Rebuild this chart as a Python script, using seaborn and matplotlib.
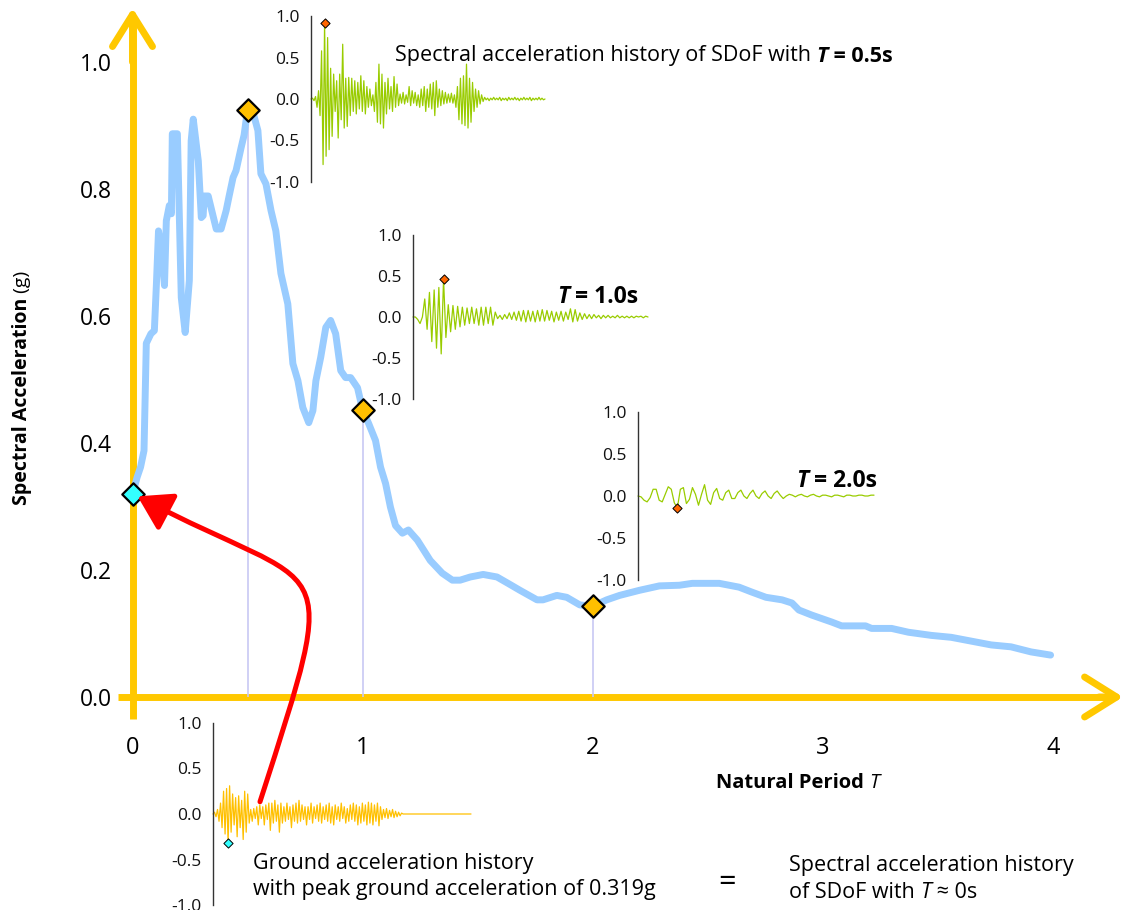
import numpy as np
import pandas as pd
import matplotlib
matplotlib.use("Agg")
import matplotlib.pyplot as plt
import seaborn as sns
from matplotlib.path import Path
from matplotlib.patches import FancyArrowPatch

# ---------------- data ----------------
period = [0.0, 0.02, 0.035, 0.05, 0.06, 0.08, 0.095, 0.104, 0.113, 0.126, 0.139, 0.147, 0.16, 0.169,
          0.173, 0.195, 0.212, 0.229, 0.247, 0.255, 0.264, 0.286, 0.299, 0.307, 0.312, 0.329, 0.364,
          0.385, 0.407, 0.42, 0.437, 0.45, 0.472, 0.485, 0.5, 0.515, 0.528, 0.545, 0.558, 0.58, 0.602,
          0.623, 0.645, 0.675, 0.697, 0.719, 0.74, 0.766, 0.784, 0.797, 0.818, 0.84, 0.861, 0.883,
          0.905, 0.926, 0.948, 0.978, 1.0, 1.026, 1.056, 1.078, 1.1, 1.121, 1.143, 1.173, 1.199,
          1.238, 1.294, 1.346, 1.39, 1.424, 1.468, 1.524, 1.584, 1.632, 1.684, 1.758, 1.784, 1.844,
          1.887, 1.944, 2.0, 2.061, 2.117, 2.203, 2.29, 2.377, 2.433, 2.55, 2.636, 2.693, 2.753,
          2.823, 2.866, 2.896, 2.952, 3.039, 3.082, 3.186, 3.212, 3.299, 3.372, 3.472, 3.558, 3.645,
          3.732, 3.818, 3.905, 3.99]
spectral_acc = [0.319, 0.346, 0.362, 0.388, 0.557, 0.572, 0.577, 0.651, 0.734, 0.705, 0.648, 0.750,
                0.774, 0.761, 0.887, 0.887, 0.629, 0.574, 0.656, 0.876, 0.910, 0.844, 0.755, 0.758,
                0.789, 0.789, 0.737, 0.737, 0.766, 0.789, 0.818, 0.829, 0.865, 0.885, 0.925, 0.930,
                0.915, 0.892, 0.824, 0.808, 0.766, 0.734, 0.667, 0.619, 0.525, 0.498, 0.456, 0.432,
                0.451, 0.498, 0.535, 0.582, 0.593, 0.572, 0.514, 0.503, 0.503, 0.487, 0.452, 0.431,
                0.404, 0.362, 0.336, 0.299, 0.270, 0.258, 0.263, 0.247, 0.215, 0.195, 0.184, 0.184,
                0.189, 0.193, 0.189, 0.179, 0.168, 0.153, 0.153, 0.160, 0.157, 0.145, 0.143, 0.153,
                0.160, 0.168, 0.175, 0.176, 0.179, 0.179, 0.173, 0.165, 0.157, 0.153, 0.148, 0.137,
                0.129, 0.118, 0.112, 0.112, 0.108, 0.108, 0.102, 0.097, 0.094, 0.088, 0.082, 0.079,
                0.071, 0.066]

highlight_T = [0.5, 1.0, 2.0]
highlight_Sa = [0.925, 0.452, 0.143]
pga_T = [0.0]
pga_Sa = [0.319]

y_ticks = [0.0, 0.2, 0.4, 0.6, 0.8, 1.0]
y_tick_labels = ["0.0", "0.2", "0.4", "0.6", "0.8", "1.0"]
x_ticks = [0, 1, 2, 3, 4]
x_tick_labels = ["0", "1", "2", "3", "4"]
inset_ticks = [-1.0, -0.5, 0.0, 0.5, 1.0]
inset_tick_labels = ["-1.0", "-0.5", "0.0", "0.5", "1.0"]

sdof_05 = [0.0, 0.01, -0.02, 0.03, -0.10, 0.10, -0.20, 0.58, -0.79, 0.92, -0.69, 0.74, -0.61, 0.37, -0.45,
           0.30, -0.15, 0.22, -0.47, 0.30, -0.25, 0.66, -0.35, 0.25, -0.33, 0.26, -0.20, 0.25, -0.15, 0.22,
           -0.18, 0.20, -0.12, 0.28, -0.15, 0.22, -0.18, 0.15, -0.10, 0.12, -0.08, 0.05, -0.15, 0.20, -0.28,
           0.42, -0.30, 0.30, -0.35, 0.20, -0.18, 0.25, -0.12, 0.15, -0.15, 0.27, -0.10, 0.18, -0.08, 0.06,
           -0.05, 0.08, -0.06, 0.05, -0.04, 0.15, -0.08, 0.10, -0.05, 0.08, -0.08, 0.05, -0.10, 0.12, -0.08,
           0.15, -0.15, 0.12, -0.10, 0.18, -0.12, 0.20, -0.20, 0.22, -0.10, 0.12, -0.08, 0.10, -0.06, 0.08,
           -0.05, 0.06, -0.04, 0.07, -0.05, 0.05, -0.10, 0.15, -0.25, 0.25, -0.30, 0.28, -0.32, 0.42, -0.35,
           0.25, -0.28, 0.20, -0.15, 0.12, -0.10, 0.10, -0.06, 0.05, -0.03,
           0.02, -0.01, 0.01, -0.02, 0.01, -0.01, 0.02, -0.01, 0.01, -0.01, 0.02, -0.02, 0.01, -0.01,
           0.01, -0.02, 0.02, -0.01, 0.01, -0.01, 0.02, -0.01, 0.01, -0.02, 0.01, -0.01, 0.02, -0.01,
           0.01, -0.01, 0.02, -0.02, 0.01, -0.01, 0.01, -0.01, 0.02, -0.01, 0.01, -0.01, 0.0]

sdof_10 = [0.0, 0.0, -0.03, -0.08, 0.0, 0.22, -0.15, 0.30, -0.30, 0.33, -0.38, 0.36, -0.45, 0.46, -0.25,
           0.15, -0.18, 0.14, -0.15, 0.13, -0.12, 0.12, -0.10, 0.11, -0.08, 0.12, -0.08, 0.10, -0.10, 0.12,
           -0.10, 0.12, -0.08, 0.12, -0.10, 0.06, -0.02, 0.02, -0.03, 0.03, -0.02, 0.05, -0.03, 0.06, -0.04,
           0.07, -0.05, 0.08, -0.06, 0.08, -0.05, 0.07, -0.06, 0.08, -0.05, 0.09, -0.05, 0.08, -0.04, 0.07,
           -0.06, 0.06, -0.04, 0.07, -0.05, 0.06, -0.03, 0.10, -0.06, 0.09, -0.05, 0.05, -0.03, 0.04, -0.02,
           0.03, -0.02, 0.03, -0.01, 0.02, -0.02, 0.02, -0.01, 0.02, -0.01, 0.01, -0.01, 0.02, -0.01, 0.01,
           -0.01, 0.01, -0.01, 0.01, -0.01, 0.01, 0.0, 0.01, -0.01, 0.01, 0.0]

sdof_20 = [0.0, -0.01, -0.05, -0.07, -0.02, 0.08, 0.08, -0.05, -0.07, 0.02, 0.11, 0.08, -0.08, -0.143,
           0.08, 0.10, -0.09, -0.04, 0.10, 0.02, -0.11, 0.02, 0.135, -0.05, -0.10, 0.04, 0.09, -0.03,
           -0.05, 0.04, 0.07, -0.03, -0.03, 0.04, 0.07, 0.0, -0.03, 0.03, 0.07, 0.0, -0.03, 0.03, 0.06,
           0.0, -0.03, 0.03, 0.06, 0.01, -0.03, 0.0, 0.02, 0.01, -0.01, 0.01, 0.02, 0.0, -0.01, 0.01,
           0.02, 0.0, -0.01, 0.01, 0.01, 0.0, -0.01, 0.01, 0.01, 0.0, -0.01, 0.01, 0.01, 0.0, 0.0, 0.01,
           0.01, 0.0, 0.0, 0.01, 0.01]

ground = [0.0, 0.02, -0.03, 0.05, -0.08, 0.12, -0.15, 0.25, -0.22, 0.28, -0.319, 0.31, -0.20, 0.22,
          -0.12, 0.18, -0.25, 0.20, -0.15, 0.15, -0.28, 0.25, -0.20, 0.22, -0.10, 0.05, -0.08, 0.06,
          -0.05, 0.08, -0.12, 0.10, -0.05, 0.08, -0.12, 0.10, -0.06, 0.12, -0.18, 0.12, -0.10, 0.15,
          -0.08, 0.10, -0.20, 0.12, -0.10, 0.08, -0.08, 0.12, -0.06, 0.08, -0.15, 0.10, -0.08, 0.12,
          -0.10, 0.15, -0.08, 0.10, -0.06, 0.08, -0.12, 0.08, -0.06, 0.12, -0.10, 0.08, -0.05, 0.10,
          -0.08, 0.12, -0.10, 0.08, -0.06, 0.10, -0.08, 0.12, -0.10, 0.08, -0.12, 0.10, -0.06, 0.08,
          -0.08, 0.12, -0.05, 0.08, -0.10, 0.06, -0.08, 0.10, -0.06, 0.12, -0.08, 0.10, -0.12, 0.08,
          -0.10, 0.12, -0.08, 0.10, -0.12, 0.13, -0.10, 0.12, -0.12, 0.10, -0.08, 0.12, -0.13, 0.08,
          -0.06, 0.05, -0.04, 0.06, -0.05, 0.04, -0.03, 0.05, -0.04, 0.03, -0.03, 0.02, -0.02, 0.01,
          0, 0, 0, 0, 0, 0, 0, 0, 0, 0, 0, 0, 0, 0, 0, 0, 0, 0, 0, 0, 0, 0, 0,
          0, 0, 0, 0, 0, 0, 0, 0, 0, 0, 0, 0, 0, 0, 0, 0, 0, 0, 0, 0, 0, 0, 0]

# red arrow guide (start, two control points, end) in main-axes data units
arrow_T = [0.554, 0.919, 0.858, 0.022]
arrow_Sa = [-0.165, 0.246, 0.156, 0.316]

# ---------------- style ----------------
sns.set_theme(style="white")
plt.rcParams["font.family"] = ["Open Sans", "DejaVu Sans"]
plt.rcParams["axes.unicode_minus"] = False

AXIS_ORANGE = "#FFC800"
SPEC_BLUE = "#99CCFF"
GREEN = "#99CC00"
GROUND_ORANGE = "#FFC000"
GOLD = "#FFC000"
PEAK_ORANGE = "#FF6600"
CYAN = "#33FFFF"
LAVENDER = "#C8C8F4"

W, H = 1130, 910
fig = plt.figure(figsize=(W / 100, H / 100), dpi=100)
fig.patch.set_facecolor("white")


def px_axes(left, top, width, height):
    return fig.add_axes([left / W, 1 - (top + height) / H, width / W, height / H])


# pixel mapping of the main chart
X0, XS = 132.5, 230.1
Y0, YS = 697.0, 635.0

ax = px_axes(100, 0, 1030, 760)
ax.set_facecolor("none")
ax.set_xlim((100 - X0) / XS, (1130 - X0) / XS)
ax.set_ylim((Y0 - 760) / YS, (Y0 - 0) / YS)

for s in ["top", "right"]:
    ax.spines[s].set_visible(False)
ax.spines["left"].set_position(("data", 0))
ax.spines["bottom"].set_position(("data", 0))
for s in ["left", "bottom"]:
    ax.spines[s].set_color(AXIS_ORANGE)
    ax.spines[s].set_linewidth(5)
    ax.spines[s].set_capstyle("butt")
    ax.spines[s].set_zorder(1)
ax.spines["left"].set_bounds(-0.035, 1.06)
ax.spines["bottom"].set_bounds(-0.065, 4.27)

# arrow heads
head = "->,head_length=1.15,head_width=0.72"
ax.annotate("", xy=(0, 1.085), xytext=(0, 1.0),
            arrowprops=dict(arrowstyle=head, lw=5, color=AXIS_ORANGE,
                            shrinkA=0, shrinkB=0, mutation_scale=20, capstyle="round", joinstyle="round"),
            annotation_clip=False, zorder=1)
ax.annotate("", xy=(4.305, 0), xytext=(4.2, 0),
            arrowprops=dict(arrowstyle=head, lw=5, color=AXIS_ORANGE,
                            shrinkA=0, shrinkB=0, mutation_scale=20, capstyle="round", joinstyle="round"),
            annotation_clip=False, zorder=1)

ax.set_xticks(x_ticks)
ax.set_xticklabels(x_tick_labels, fontsize=17)
ax.set_yticks(y_ticks)
ax.set_yticklabels(y_tick_labels, fontsize=16.5)
ax.tick_params(axis="y", direction="out", length=7, width=1, color="black", pad=8, labelcolor="black")
ax.tick_params(axis="x", direction="out", length=6, width=1, color="#444444", pad=22, labelcolor="black")
ax.xaxis.get_major_ticks()[0].tick1line.set_visible(False)
ax.yaxis.get_major_ticks()[0].tick1line.set_visible(False)
ax.set_xlabel("")
ax.set_ylabel("")
ax.grid(False)

# vertical guide lines
ax.vlines(highlight_T, 0, highlight_Sa, colors=LAVENDER, linewidth=1.2, zorder=2)

# spectrum
sns.lineplot(x=period, y=spectral_acc, ax=ax, color=SPEC_BLUE, linewidth=5, zorder=3,
             solid_joinstyle="round", solid_capstyle="round")

sns.scatterplot(x=highlight_T, y=highlight_Sa, ax=ax, marker="D", s=130, color=GOLD,
                edgecolor="black", linewidth=1.6, zorder=5, clip_on=False)
sns.scatterplot(x=pga_T, y=pga_Sa, ax=ax, marker="D", s=130, color=CYAN,
                edgecolor="black", linewidth=1.6, zorder=6, clip_on=False)

# red curved arrow
verts = list(zip(arrow_T, arrow_Sa))
path = Path(verts, [Path.MOVETO, Path.CURVE4, Path.CURVE4, Path.CURVE4])
arrow = FancyArrowPatch(path=path, arrowstyle="-|>,head_length=0.45,head_width=0.28", mutation_scale=45,
                        color="#FF0000", linewidth=3.6, transform=ax.transData, clip_on=False, zorder=10)
ax.add_patch(arrow)


# ---------------- insets ----------------
def make_inset(left, top, width, height, values, color, marker_color):
    ia = px_axes(left, top, width, height)
    ia.set_facecolor("none")
    idx = np.arange(len(values))
    sns.lineplot(x=idx, y=values, ax=ia, color=color, linewidth=0.9, clip_on=False)
    k = int(np.argmax(np.abs(values)))
    sns.scatterplot(x=[idx[k]], y=[values[k]], ax=ia, marker="D", s=22, color=marker_color,
                    edgecolor="black", linewidth=0.7, zorder=5, clip_on=False)
    ia.set_xlim(0, len(values) - 1)
    ia.set_ylim(-1, 1)
    for s in ["top", "right", "bottom"]:
        ia.spines[s].set_visible(False)
    ia.spines["left"].set_color("#333333")
    ia.spines["left"].set_linewidth(1.0)
    ia.set_xticks([])
    ia.set_yticks(inset_ticks)
    ia.set_yticklabels(inset_tick_labels, fontsize=12.5)
    ia.tick_params(axis="y", direction="out", length=4, width=1, color="#333333",
                   pad=4, labelcolor="#111111")
    ia.set_xlabel("")
    ia.set_ylabel("")
    ia.grid(False)
    return ia


make_inset(311, 16, 234, 166, sdof_05, GREEN, PEAK_ORANGE)
make_inset(413, 235, 235, 164, sdof_10, GREEN, PEAK_ORANGE)
make_inset(638, 412, 236, 168, sdof_20, GREEN, PEAK_ORANGE)
make_inset(213, 723, 258, 182, ground, GROUND_ORANGE, CYAN)


# ---------------- texts ----------------
def rich(x, y, parts, size):
    s0, w0, st0 = parts[0]
    t = fig.text(x / W, 1 - y / H, s0, fontsize=size, fontweight=w0, fontstyle=st0,
                 va="center", ha="left", color="black")
    for s, w, st in parts[1:]:
        t = ax.annotate(s, xy=(1, 0.5), xycoords=t, va="center", ha="left", fontsize=size,
                        fontweight=w, fontstyle=st, color="black", annotation_clip=False)
    return t


TXT = 15.5
rich(395, 56, [("Spectral acceleration history of SDoF with ", "normal", "normal"),
               ("T", "bold", "italic"), (" = 0.5s", "bold", "normal")], TXT)
rich(557, 297, [("T", "bold", "italic"), (" = 1.0s", "bold", "normal")], 16.5)
rich(796, 481, [("T", "bold", "italic"), (" = 2.0s", "bold", "normal")], 16.5)

rich(253, 863, [("Ground acceleration history", "normal", "normal")], TXT)
rich(253, 890, [("with peak ground acceleration of 0.319g", "normal", "normal")], TXT)
fig.text(727 / W, 1 - 883 / H, "=", fontsize=22, ha="center", va="center", color="black")
rich(789, 865, [("Spectral acceleration history", "normal", "normal")], TXT)
rich(789, 892, [("of SDoF with ", "normal", "normal"), ("T", "normal", "italic"),
                (" \u2248 0s", "normal", "normal")], TXT)

rich(716, 783, [("Natural Period ", "bold", "normal"), ("T", "normal", "italic")], 14.5)

# rotated y label: bold part then regular "(g)"
yl = fig.text(22 / W, 1 - 505 / H, "Spectral Acceleration", rotation=90, rotation_mode="anchor",
              fontsize=14, fontweight="bold", ha="left", va="center", color="black")
ax.annotate(" (g)", xy=(0.5, 1), xycoords=yl, rotation=90, ha="center", va="bottom",
            fontsize=14, color="black", annotation_clip=False)

fig.savefig("out.png", dpi=100, facecolor="white")
